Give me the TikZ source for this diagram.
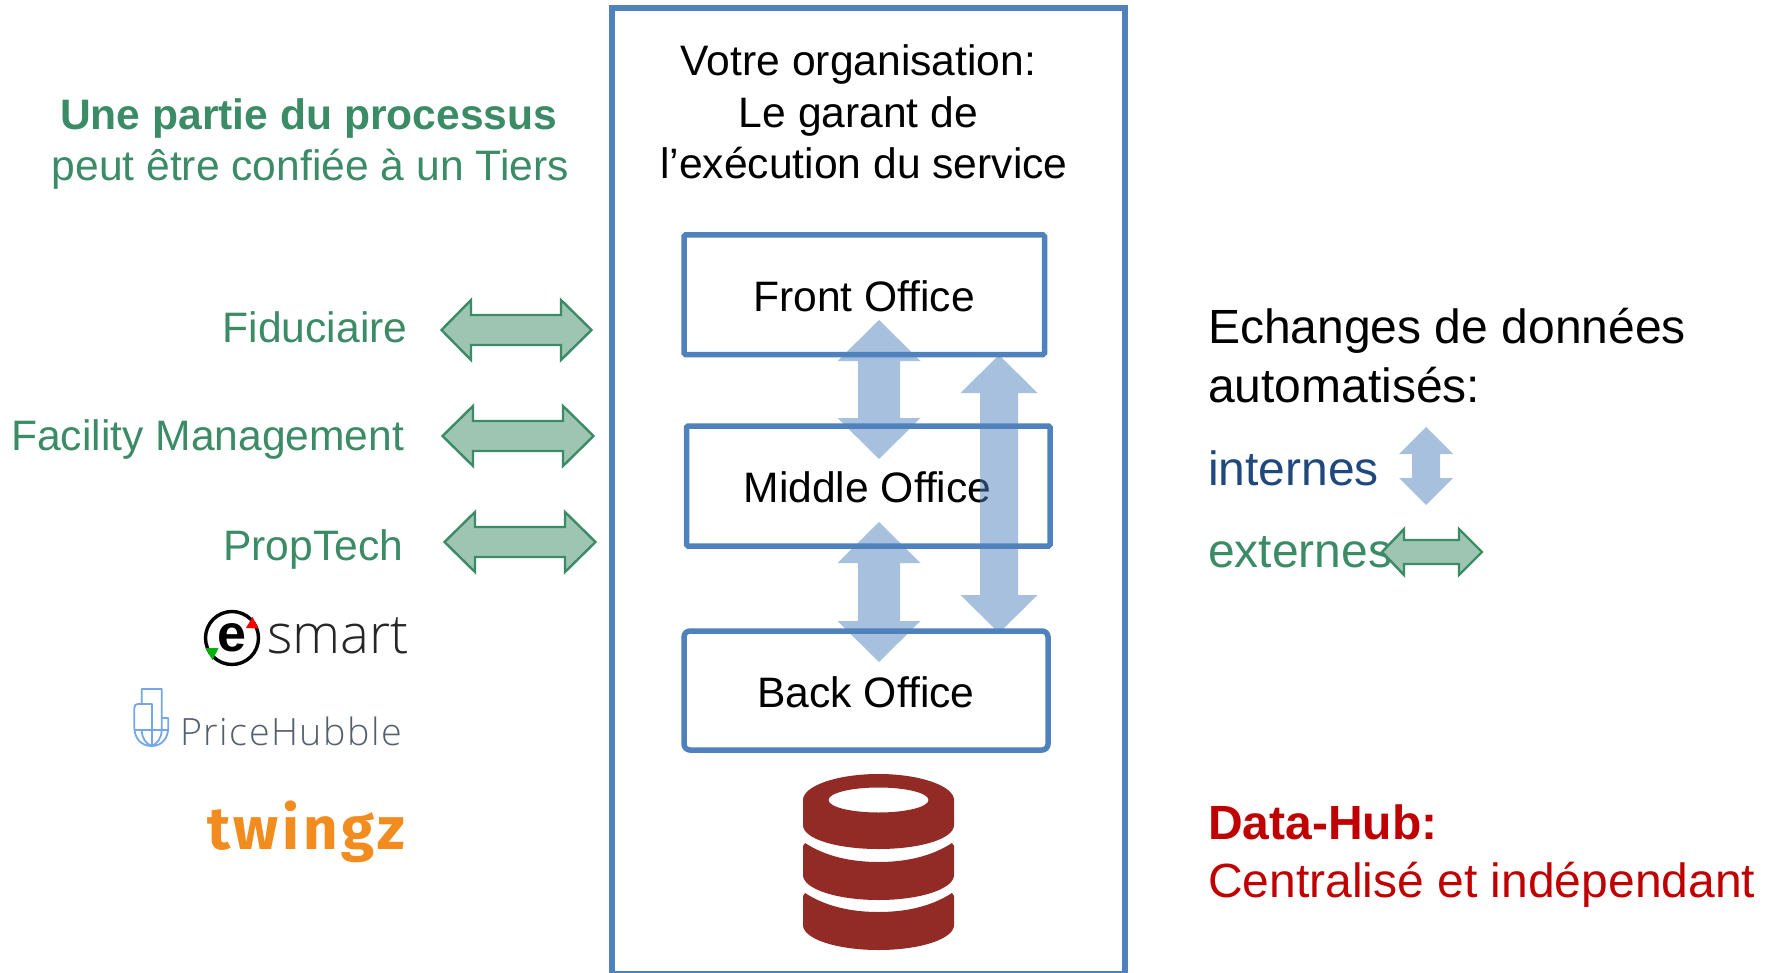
\documentclass[tikz,border=0pt]{standalone}
\usepackage{fontspec}
\setmainfont{Liberation Sans}
\newfontfamily\osl[UprightFont=* Light,LetterSpace=4]{Open Sans}
\newfontfamily\osm[UprightFont=* Light]{Open Sans}
\newfontfamily\twf[LetterSpace=6]{Fira Sans}
\definecolor{bluebox}{HTML}{4F81BD}
\definecolor{greentxt}{HTML}{3B8C66}
\definecolor{greenfill}{HTML}{9DC5B1}
\definecolor{navytxt}{HTML}{1F497D}
\definecolor{redtxt}{HTML}{C00000}
\definecolor{dbred}{HTML}{922A25}
\definecolor{orangelogo}{HTML}{F28C1E}
\definecolor{phgrey}{HTML}{55606E}
\definecolor{phblue}{HTML}{74A7EA}
\newcommand{\fs}[1]{\fontsize{#1}{#1}\selectfont}
% vertical block arrow: cx, top, headbase1, headbase2, bottom, headhalf, shafthalf
\newcommand{\blockV}[7]{\fill[bluebox,fill opacity=.5] (#1,#2) -- ({#1+#6},#3) -- ({#1+#7},#3) -- ({#1+#7},#4) -- ({#1+#6},#4) -- (#1,#5) -- ({#1-#6},#4) -- ({#1-#7},#4) -- ({#1-#7},#3) -- ({#1-#6},#3) -- cycle;}
% horizontal block arrow: cy, left, base1, base2, right, headhalf, shafthalf
\newcommand{\blockH}[7]{\draw[greentxt,line width=2.4pt,fill=greenfill,line join=miter] (#2,#1) -- (#3,{#1-#6}) -- (#3,{#1-#7}) -- (#4,{#1-#7}) -- (#4,{#1-#6}) -- (#5,#1) -- (#4,{#1+#6}) -- (#4,{#1+#7}) -- (#3,{#1+#7}) -- (#3,{#1+#6}) -- cycle;}
\tikzset{
  txt/.style={inner sep=0pt,anchor=base west,font=\fs{42.6}},
  ctxt/.style={inner sep=0pt,anchor=base,font=\fs{42.6}},
  officebox/.style={draw=bluebox,line width=5.5pt,rounded corners=1.5pt},
  green/.style={text=greentxt},
}
\begin{document}
\begin{tikzpicture}[x=1pt,y=-1pt]
\useasboundingbox (0,0) rectangle (1771,973);
% outer frame
\draw[bluebox,line width=5.5pt] (612,973) -- (612,8) -- (1125,8) -- (1125,973);
\draw[bluebox,line width=2pt] (612,972) -- (1125,972);
% title
\node[ctxt] (t1) at (858.5,75.5) {Votre organisation:};
\node[ctxt] (t2) at (858.5,127.5) {Le garant de};
\node[ctxt] (t3) at (864,178.5) {l’exécution du service};
% office boxes
\draw[officebox] (684,235) rectangle (1044.5,354.5);
\draw[officebox] (686.5,426) rectangle (1050,546);
\draw[officebox,rounded corners=6pt] (684,631) rectangle (1048,750);
\node[ctxt] (fo) at (864,311.5) {Front Office};
\node[ctxt] (mo) at (867.5,502) {Middle Office};
\node[ctxt] (bo) at (866,707) {Back Office};
% internal arrows
\blockV{879}{320}{361}{418}{459}{41.5}{21}
\blockV{879}{522}{563}{621}{662}{41.5}{21}
\blockV{999}{355}{393}{595}{633}{38.5}{19}
% database
\fill[dbred,even odd rule] (803,800) .. controls (803,786) and (837,774) .. (878.5,774) .. controls (920,774) and (954,786) .. (954,800) -- (954,825) .. controls (954,839) and (920,849) .. (878.5,849) .. controls (837,849) and (803,839) .. (803,825) -- cycle
  (828.5,800) .. controls (828.5,793) and (851,787.5) .. (878.5,787.5) .. controls (906,787.5) and (928.5,793) .. (928.5,800) .. controls (928.5,807) and (906,812.5) .. (878.5,812.5) .. controls (851,812.5) and (828.5,807) .. (828.5,800) -- cycle;
\fill[dbred] (805,843) .. controls (825,856) and (850,862) .. (878.5,862) .. controls (907,862) and (932,856) .. (952,843) -- (954,846) -- (954,875) .. controls (954,889) and (920,900) .. (878.5,900) .. controls (837,900) and (803,889) .. (803,875) -- (803,846) -- cycle;
\fill[dbred] (805,893) .. controls (825,906) and (850,912) .. (878.5,912) .. controls (907,912) and (932,906) .. (952,893) -- (954,896) -- (954,925) .. controls (954,939) and (920,950) .. (878.5,950) .. controls (837,950) and (803,939) .. (803,925) -- (803,896) -- cycle;
% left column
\node[txt,green,font=\fs{42.6}\bfseries] (u1) at (60,129.5) {Une partie du processus};
\node[txt,green,font=\fs{42.6}] (u2) at (51.5,181) {peut être confiée à un Tiers};
\node[txt,green] (l1) at (222.5,342) {Fiduciaire};
\node[txt,green] (l2) at (11,450) {Facility Management};
\node[txt,green] (l3) at (223,560) {PropTech};
\blockH{330}{441.5}{471}{561}{591.5}{30}{15}
\blockH{436}{442.5}{473}{563}{593.5}{30}{15}
\blockH{542}{444.5}{475}{565}{595.5}{30}{15}
% e-smart logo
\draw[black,line width=3.4pt] (232,638) circle (26.5);
\fill[red] (246,628) -- (252.5,617) -- (258.5,628.5) -- cycle;
\fill[green!70!black] (205.5,648) -- (218.5,648) -- (212.5,660) -- cycle;
\node[ctxt,font=\fs{52}\bfseries] (elogo) at (232,651) {e};
\node[txt,font=\osm\fs{54.5},text=black!85] (smart) at (267,653) {smart};
% PriceHubble logo
\begin{scope}[phblue,line width=1.8pt,line join=round]
\draw (141.7,703) -- (141.7,689) -- (161.7,689) -- (161.7,718) -- (168.3,718) -- (168.3,727) .. controls (168.3,738) and (162,746) .. (151.7,746) .. controls (141,746) and (134.3,738) .. (134.3,727) -- (134.3,708) .. controls (134.3,705) and (136,704) .. (138,704) -- (152,704) -- (152,746);
\draw (134.3,730) -- (168.3,730);
\draw (141.7,730) .. controls (141.7,738) and (146,744) .. (151.7,746);
\draw (161.7,718) -- (161.7,730) .. controls (161.7,738) and (157,744) .. (151.7,746);
\end{scope}
\node[txt,font=\osl\fs{37.6},text=phgrey] (ph) at (180,745) {PriceHubble};
% twingz logo
\node[txt,font=\twf\fs{60}\bfseries,text=orangelogo] (twingz) at (207,849) {twingz};
% right column
\node[txt,font=\fs{48}] (e1) at (1208,344) {Echanges de données};
\node[txt,font=\fs{48}] (e2) at (1208,402) {automatisés:};
\node[txt,font=\fs{48},text=navytxt] (i1) at (1208,485) {internes};
\node[txt,font=\fs{48},green] (x1) at (1208,567.5) {externes};
\blockV{1426}{427}{454}{478}{505}{27}{14}
\blockH{552}{1382}{1404}{1459}{1482}{23}{12}
\node[txt,font=\fs{48}\bfseries,text=redtxt] (d1) at (1208,839) {Data-Hub:};
\node[txt,font=\fs{48},text=redtxt] (d2) at (1208,897) {Centralisé et indépendant};
\end{tikzpicture}
\end{document}
